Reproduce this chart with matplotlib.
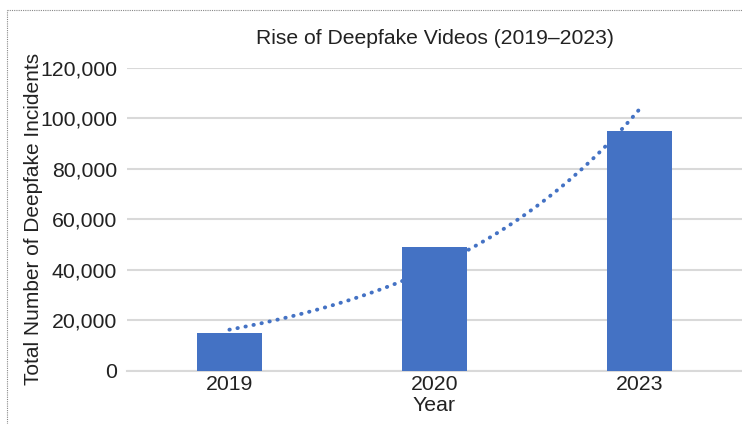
import numpy as np
import matplotlib
matplotlib.use('Agg')
import matplotlib.pyplot as plt
from matplotlib.lines import Line2D

# Datos
years = ['2019', '2020', '2023']
incidents = [15000, 49000, 95000]
yticks = [0, 20000, 40000, 60000, 80000, 100000, 120000]

plt.rcParams['font.family'] = ['Liberation Sans', 'DejaVu Sans']

azul = '#4472C4'
gris = '#D9D9D9'

fig = plt.figure(figsize=(7.42, 4.24), dpi=100)
ax = fig.add_axes([0.171, 0.125, 0.829, 0.715])

x = np.arange(len(years))
ax.bar(x, incidents, width=0.32, color=azul, zorder=3)

# Linea de tendencia exponencial (como en Excel)
xs = x + 1
b, a = np.polyfit(xs, np.log(incidents), 1)
xt = np.linspace(xs[0], xs[-1], 100)
ax.plot(xt - 1, np.exp(a + b * xt), color=azul, lw=2.8, linestyle=(0, (0.1, 2.0)),
        dash_capstyle='round', zorder=2)

ax.set_xlim(-0.5, 2.5)
ax.set_ylim(0, 120000)
ax.set_yticks(yticks)
ax.set_yticklabels([f'{v:,}' for v in yticks], fontsize=15.3, color='#222222')
ax.set_xticks(x)
ax.set_xticklabels(years, fontsize=15.3, color='#222222')
ax.tick_params(length=0, pad=7)
ax.tick_params(axis='x', pad=3)
ax.grid(axis='y', color=gris, lw=1.5, zorder=0)
for s in ['top', 'right', 'left']:
    ax.spines[s].set_visible(False)
ax.spines['bottom'].set_color(gris)
ax.spines['bottom'].set_linewidth(1.5)

ax.set_title('Rise of Deepfake Videos (2019\u20132023)', fontsize=15.2, color='#222222', pad=17)
ax.set_xlabel('Year', fontsize=15.3, color='#222222', labelpad=1)
ax.set_ylabel('Total Number of Deepfake Incidents', fontsize=15.0, color='#222222', labelpad=-2)

# Borde punteado de la figura
fig.add_artist(Line2D([0.009, 1.0], [0.977, 0.977], transform=fig.transFigure,
                      color='#888888', lw=0.8, linestyle=(0, (1, 1))))
fig.add_artist(Line2D([0.009, 0.009], [0.0, 0.977], transform=fig.transFigure,
                      color='#888888', lw=0.8, linestyle=(0, (1, 1))))

fig.savefig('out.png', dpi=100)
